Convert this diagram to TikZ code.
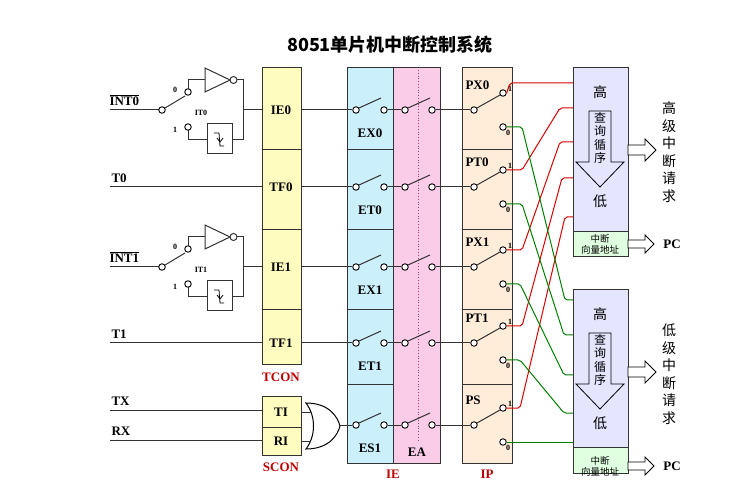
\documentclass[tikz,border=0pt]{standalone}
\usepackage{fontspec}
\setmainfont{Liberation Serif}
\newfontfamily\cjk{Noto Sans CJK SC}
\begin{document}
\begin{tikzpicture}[x=1pt,y=-1pt,
  lbl/.style={font=\bfseries\fontsize{13}{14}\selectfont},
  rlbl/.style={font=\bfseries\fontsize{13}{14}\selectfont,text=red!75!black},
  sml/.style={font=\bfseries\fontsize{8}{9}\selectfont},
  wire/.style={line width=1pt,black!80},
  cont/.style={circle,draw,line width=0.9pt,fill=white,minimum size=6.5pt,inner sep=0pt},
  col/.style={draw,line width=1pt,black!80},
  rw/.style={line width=1pt,red!85!black,rounded corners=2pt},
  gw/.style={line width=1pt,green!50!black,rounded corners=2pt},
  cjkt/.style={font=\cjk\fontsize{14}{16}\selectfont},
  vtxt/.style={font=\cjk\fontsize{14}{17.5}\selectfont,align=center},
  darr/.style={draw,line width=0.9pt,fill=white}]
\useasboundingbox (0,0) rectangle (734,494);
\node[font=\cjk\bfseries\fontsize{18}{20}\selectfont] (title) at (390,45) {8051单片机中断控制系统};
% columns
\fill[yellow!25] (262,68) rectangle (301,365);
\draw[col] (262,68) rectangle (301,365);
\foreach \y in {150,230,310} \draw[col] (262,\y) -- (301,\y);
\fill[cyan!20] (347,68) rectangle (393,463);
\fill[magenta!20] (393,68) rectangle (440,463);
\fill[orange!15] (462,68) rectangle (512,463);
\draw[col] (347,68) rectangle (440,463);
\draw[col] (393,68) -- (393,463);
\draw[col] (462,68) rectangle (512,463);
\foreach \y in {150,230,310,385} {\draw[col] (347,\y) -- (393,\y); \draw[col] (462,\y) -- (512,\y);}
\draw[dotted,line width=0.8pt,magenta!60!black] (418,70) -- (418,440);
% SCON
\fill[yellow!25] (262,397) rectangle (301,455);
\draw[col] (262,397) rectangle (301,455);
\draw[col] (262,427) -- (301,427);
\node[lbl] (TI) at (281,412) {TI};
\node[lbl] (RI) at (281,441) {RI};
\node[rlbl] (tcon) at (281,377) {TCON};
\node[rlbl] (scon) at (281,467) {SCON};
\node[rlbl] (ie) at (393,474) {IE};
\node[rlbl] (ip) at (487,474) {IP};
\node[lbl] (ea) at (417,452) {EA};
% TCON labels
\node[lbl] (IE0) at (281,110) {IE0};
\node[lbl] (TF0) at (281,187) {TF0};
\node[lbl] (IE1) at (281,267) {IE1};
\node[lbl] (TF1) at (281,343) {TF1};
% inputs
\node[lbl,anchor=south west] (int0) at (106,109) {$\overline{\mbox{INT0}}$};
\node[lbl,anchor=south west] (t0) at (108,186) {T0};
\node[lbl,anchor=south west] (int1) at (106,266) {$\overline{\mbox{INT1}}$};
\node[lbl,anchor=south west] (t1) at (108,342) {T1};
\node[lbl,anchor=south west] (tx) at (108,409) {TX};
\node[lbl,anchor=south west] (rx) at (108,439) {RX};
\draw[wire] (110,187) -- (262,187);
\draw[wire] (110,343) -- (262,343);
\draw[wire] (110,410) -- (262,410);
\draw[wire] (110,440) -- (262,440);
% INT circuits
\foreach \d/\n in {0/0,157/1}{
  \begin{scope}[yshift=-\d pt]
  \draw[wire] (110,110) -- (159,110);
  \draw[wire] (188,89) -- (188,80) -- (205,80);
  \draw[wire] (205,68) -- (205,92) -- (230,80) -- cycle;
  \draw[wire] (233.5,80) circle (3.5);
  \draw[wire] (237,80) -- (243,80) -- (243,140) -- (232,140);
  \draw[wire] (243,110) -- (262,110);
  \draw[wire] (188,130) -- (188,140) -- (207,140);
  \draw[wire] (207,124) rectangle (232,154);
  \draw[line width=0.8pt] (214,133) -- (219,133) -- (220,146) -- (224,146);
  \draw[line width=0.8pt] (217,138) -- (220,142) -- (223,138);
  \draw[wire] (165,108) -- (185,96);
  \node[cont] (p\n) at (162,110) {};
  \node[cont] (c0\n) at (188,92) {};
  \node[cont] (c1\n) at (188,127) {};
  \node[sml] (z\n) at (175,90) {0};
  \node[sml] (o\n) at (175,130) {1};
  \node[sml] (it\n) at (201,113) {IT\n};
  \end{scope}}
% OR gate
\draw[line width=1pt,fill=white] (306,403) .. controls (330,403) and (338,418) .. (340,426) .. controls (338,434) and (330,449) .. (306,449) .. controls (316,436) and (316,416) .. (306,403) -- cycle;
\draw[wire] (301,412) -- (311,412);
\draw[wire] (301,441) -- (311,441);
% rows
\foreach \y/\en/\pn [count=\i] in {110/EX0/PX0,187/ET0/PT0,267/EX1/PX1,343/ET1/PT1,425/ES1/PS}{
  \draw[wire] (340,\y) -- (352,\y);
  \node[cont] (a\i) at (356,\y) {};
  \node[cont] (b\i) at (384,\y) {};
  \draw[wire] (359,\y-2) -- (381,\y-12);
  \node[cont] (c\i) at (405,\y) {};
  \node[cont] (d\i) at (432,\y) {};
  \draw[wire] (408,\y-2) -- (430,\y-12);
  \draw[wire] (b\i) -- (c\i);
  \draw[wire] (d\i) -- (470,\y);
  \node[cont] (e\i) at (474,\y) {};
  \node[cont] (h\i) at (503,\y-17) {};
  \node[cont] (l\i) at (503,\y+17) {};
  \draw[wire] (477,\y-2) -- (500,\y-15);
  \node[lbl] (n\i) at (370,\y+23) {\en};
  \node[lbl,anchor=west] (m\i) at (462,\y-25) {\pn};
  \node[sml] at (510,\y-21) {1};
  \node[sml] at (508,\y+23) {0};
}
\draw[wire] (301,110) -- (352,110);
\draw[wire] (301,187) -- (352,187);
\draw[wire] (301,267) -- (352,267);
\draw[wire] (301,343) -- (352,343);
% priority boxes
\fill[blue!10] (573,68) rectangle (628,232);
\fill[green!12] (573,232) rectangle (628,257);
\draw[col] (573,68) rectangle (628,257);
\draw[col] (573,232) -- (628,232);
\fill[blue!10] (573,290) rectangle (628,447);
\fill[green!12] (573,447) rectangle (628,473);
\draw[col] (573,290) rectangle (628,473);
\draw[col] (573,447) -- (628,447);
\foreach \o/\k in {0/h,222/l}{
  \begin{scope}[yshift=-\o pt]
  \node[cjkt] (\k top) at (600,92) {高};
  \draw[line width=0.8pt,fill=blue!10] (589,111) -- (611,111) -- (611,162) -- (624,162) -- (600,187) -- (576,162) -- (589,162) -- cycle;
  \node[font=\cjk\fontsize{12}{13.5}\selectfont,align=center] (\k q) at (600,138) {查\\询\\循\\序};
  \node[cjkt] (\k bot) at (600,201) {低};
  \node[font=\cjk\fontsize{9.5}{11}\selectfont,align=center] (\k vec) at (600,244.5) {中断\\向量地址};
  \draw[darr] (628,145) -- (645,145) -- (645,139) -- (656,150) -- (645,161) -- (645,155) -- (628,155) -- cycle;
  \draw[darr] (628,240) -- (645,240) -- (645,235) -- (654,244) -- (645,253) -- (645,248) -- (628,248) -- cycle;
  \node[lbl] (\k pc) at (672,244) {PC};
  \end{scope}}
\node[vtxt] (htxt) at (669,152) {高\\级\\中\\断\\请\\求};
\node[vtxt] (ltxt) at (669,374) {低\\级\\中\\断\\请\\求};
% red priority lines
\draw[rw] (h1.east) -- (510,83) -- (573,83);
\draw[rw] (h2.east) -- (522,170) -- (560,108) -- (573,108);
\draw[rw] (h3.east) -- (522,250) -- (560,142) -- (573,142);
\draw[rw] (h4.east) -- (522,326) -- (562,178) -- (573,178);
\draw[rw] (h5.east) -- (520,408) -- (565,217) -- (573,217);
% green
\draw[gw] (l1.east) -- (522,127) -- (565,300) -- (573,300);
\draw[gw] (l2.east) -- (522,204) -- (564,335) -- (573,335);
\draw[gw] (l3.east) -- (520,284) -- (564,375) -- (573,375);
\draw[gw] (l4.east) -- (520,360) -- (564,413) -- (573,413);
\draw[gw] (l5.east) -- (573,442);
\end{tikzpicture}
\end{document}
